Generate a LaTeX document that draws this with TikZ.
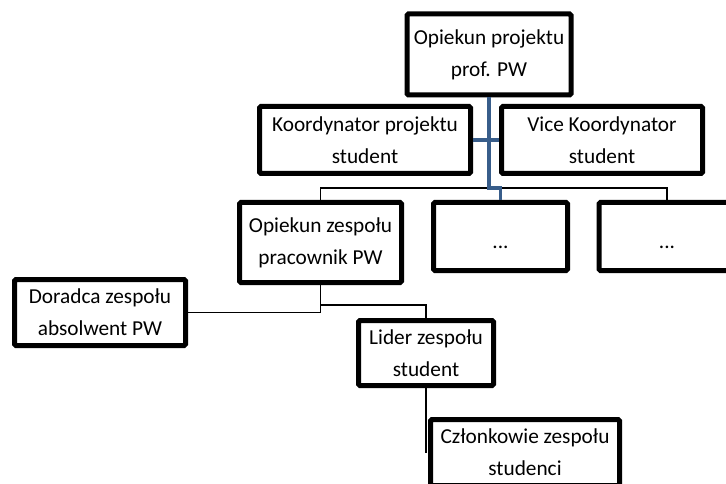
\documentclass[tikz,border=0pt]{standalone}
\usepackage{fontspec}
\setmainfont{Carlito}
\definecolor{linkblue}{RGB}{56,93,138}
\tikzset{
  box/.style={draw=black, line width=5pt, rounded corners=1.5pt, fill=white, align=center,
    inner sep=0pt, font=\fontsize{21.3}{32}\selectfont},
  thin/.style={draw=black, line width=1.3pt},
  blueline/.style={draw=linkblue, line width=3.2pt},
}
\newcommand{\lowdots}{\rule{0pt}{24pt}...}
\begin{document}
\begin{tikzpicture}[x=1pt,y=-1pt]
\useasboundingbox (0,0) rectangle (726,484);
\coordinate (bus) at (489,188);
\coordinate (mid) at (320,305);
\node[box, minimum width=164pt, minimum height=81pt] (top) at (489,54.5) {Opiekun projektu\\prof. PW};
\node[box, minimum width=211pt, minimum height=67pt] (koord) at (365,140) {Koordynator projektu\\student};
\node[box, minimum width=201pt, minimum height=67pt] (vice) at (602,140) {Vice Koordynator\\student};
\node[box, minimum width=162pt, minimum height=80pt] (oz) at (320.5,242.5) {Opiekun zespołu\\pracownik PW};
\node[box, minimum width=134pt, minimum height=68pt] (m) at (500.5,236.5) {\lowdots};
\node[box, minimum width=136pt, minimum height=68pt] (r) at (667,236.5) {\lowdots};
\node[box, minimum width=171pt, minimum height=66pt] (dor) at (100,312.5) {Doradca zespołu\\absolwent PW};
\node[box, minimum width=135pt, minimum height=65pt] (lid) at (426,353) {Lider zespołu\\student};
\node[box, minimum width=189pt, minimum height=66pt] (czl) at (525,452.5) {Członkowie zespołu\\studenci};
% thin connectors
\draw[thin] (oz.north) |- (bus) -| (r.north);
\draw[thin] (oz.south) |- (dor.east);
\draw[thin] (mid) -| (lid.north);
\draw[thin] (lid.south) -- (lid.south |- czl.west);
% blue connectors
\draw[blueline] (koord.east) -- (vice.west);
\draw[blueline] (top.south) -- (bus) -| (m.north);
\end{tikzpicture}
\end{document}
